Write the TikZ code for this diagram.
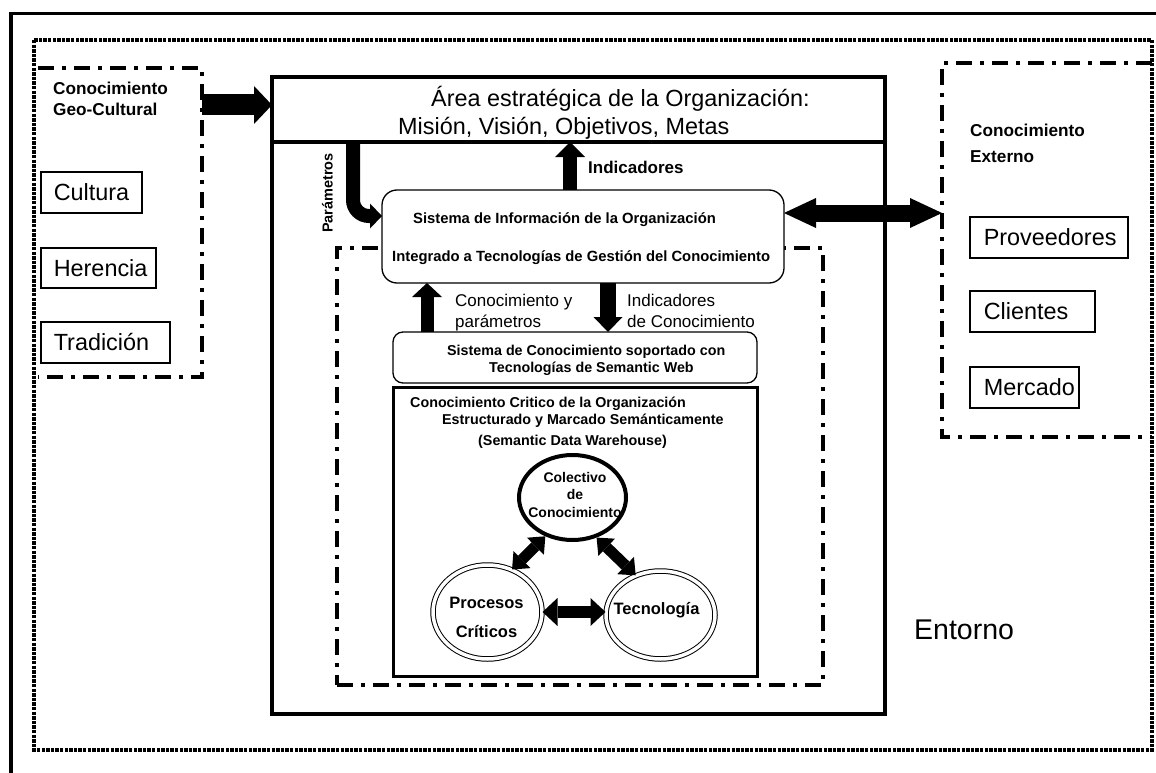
\documentclass[tikz,border=0pt]{standalone}
\usepackage{fontspec}
\setmainfont{Liberation Sans}
\usetikzlibrary{arrows.meta,shapes.geometric}
\newcommand\fs[2]{\fontsize{#1}{#2}\selectfont}

\tikzset{
  frameline/.style={line width=3.3pt},
  entorno/.style={line width=3.4pt, dash pattern=on 3.4pt off 1.2pt},
  dashdot/.style={line width=4pt, dash pattern=on 16pt off 8pt on 4pt off 8pt},
  hidden/.style={rectangle, anchor=north west, inner sep=0pt, outer sep=0pt},
  solidbox/.style={hidden, draw, line width=3.3pt},
  roundbox/.style={hidden, draw, line width=1.3pt, rounded corners=15pt, fill=white},
  lbox/.style={draw, line width=1.6pt, anchor=north west, inner ysep=0pt, inner xsep=13pt,
    minimum height=41pt, text height=16.8pt, text depth=0pt, align=left, font=\fs{23.4}{28}},
  rlbox/.style={lbox, inner xsep=14pt},
  txt/.style={inner sep=0pt, anchor=base west},
  bigtxt/.style={txt, font=\fs{23.4}{28}},
  headtxt/.style={txt, font=\fs{17.2}{21}\bfseries},
  smalltxt/.style={txt, font=\fs{14.3}{17}\bfseries},
  sitxt/.style={txt, font=\fs{14.8}{17}\bfseries},
  midtxt/.style={txt, font=\fs{17}{21}},
  blk/.style n args={3}{line width=#1, -{Triangle[length=#3, width=#2, line width=0pt]}},
  dblk/.style n args={3}{line width=#1,
    {Triangle[length=#3, width=#2, line width=0pt]}-{Triangle[length=#3, width=#2, line width=0pt]}},
  ring/.style={ellipse, draw, inner sep=0pt, line width=1pt, double, double distance=3.5pt},
}

\begin{document}
\begin{tikzpicture}[x=1pt,y=-1pt]
\useasboundingbox (0,0) rectangle (1156,773);

% outer frame and the dotted environment border
\draw[frameline] (11,773) -- (11,13.5) -- (1156,13.5);
\draw[entorno] (34,40) rectangle (1152,750);

% geo-cultural knowledge (open on the left)
\node[hidden, minimum width=164pt, minimum height=309pt] (geo) at (38,68) {};
\draw[dashdot] (geo.north west) -- (geo.north east) -- (geo.south east) -- (geo.south west);
\node[headtxt] (geoA) at (53,95) {Conocimiento};
\node[headtxt] (geoB) at (53,116) {Geo-Cultural};
\node[lbox, text width=75pt] (cul) at (40,171) {Cultura};
\node[lbox, text width=89pt, minimum height=40pt] (her) at (40,247) {Herencia};
\node[lbox, text width=103pt] (tra) at (40,321) {Tradición};

% external knowledge (open on the right)
\node[hidden, minimum width=210pt, minimum height=374pt] (ext) at (942,63) {};
\draw[dashdot] (ext.north east) -- (ext.north west) -- (ext.south west) -- (ext.south east);
\node[headtxt] (extA) at (970,137) {Conocimiento};
\node[headtxt] (extB) at (970,162) {Externo};
\node[rlbox, text width=130pt] (pro) at (969,216) {Proveedores};
\node[rlbox, text width=97pt] (cli) at (969,290) {Clientes};
\node[rlbox, text width=81pt] (mer) at (969,366) {Mercado};

% organisation
\node[solidbox, minimum width=613pt, minimum height=637pt] (org) at (272,77) {};
\node[solidbox, minimum width=613pt, minimum height=65pt] (area) at (272,77) {};
\node[bigtxt] (areaA) at (431,107) {Área estratégica de la Organización:};
\node[bigtxt] (areaB) at (398,135) {Misión, Visión, Objetivos, Metas};

% knowledge management zone
\node[hidden, draw, dashdot, minimum width=486pt, minimum height=437pt] (km) at (337,248) {};

% information system
\node[roundbox, minimum width=402pt, minimum height=93pt] (SI) at (382,190) {};
\node[sitxt] (siA) at (413,223) {Sistema de Información de la Organización};
\node[sitxt] (siB) at (392,261) {Integrado a Tecnologías de Gestión del Conocimiento};

% knowledge system
\node[roundbox, rounded corners=10pt, minimum width=364pt, minimum height=51pt] (SK) at (393,332) {};
\node[smalltxt] (skA) at (447,355) {Sistema de Conocimiento soportado con};
\node[smalltxt] (skB) at (489,372) {Tecnologías de Semantic Web};

% critical knowledge warehouse
\node[solidbox, line width=3pt, minimum width=364pt, minimum height=289pt] (crit) at (393,387) {};
\node[smalltxt] (crA) at (410,407) {Conocimiento Critico de la Organización};
\node[smalltxt] (crB) at (442,424) {Estructurado y Marcado Semánticamente};
\node[smalltxt] (crC) at (478,445) {(Semantic Data Warehouse)};

% the three circles
\node[ellipse, draw, line width=4pt, inner sep=0pt, minimum width=107pt, minimum height=85pt] (col) at (572.5,497.5) {};
\node[font=\fs{14}{17.5}\bfseries, align=center, inner sep=0pt] (colT) at (575,494.5) {Colectivo\\de\\Conocimiento};
\node[ring, minimum width=109pt, minimum height=94pt] (proc) at (487.5,612) {};
\node[font=\fs{16.5}{29}\bfseries, align=center, inner sep=0pt] (procT) at (486.5,617.6) {Procesos\\Críticos};
\node[ring, minimum width=109pt, minimum height=88pt] (tec) at (660.5,615) {};
\node[font=\fs{16.5}{20}\bfseries, inner sep=0pt, anchor=base] (tecT) at (656.5,614) {Tecnología};

\draw[dblk={11pt}{24pt}{14pt}] (col.235) -- (proc.60);
\draw[dblk={11pt}{24pt}{14pt}] (col.301) -- (tec.122);
\draw[dblk={12pt}{28pt}{15pt}] (proc.east) -- (proc.east -| tec.west);

% labels
\node[txt, rotate=90, anchor=base, font=\fs{14.5}{17}\bfseries] (parT) at (332.5,193) {Parámetros};
\node[txt, font=\fs{17}{21}\bfseries] (indT) at (588,173.5) {Indicadores};
\node[midtxt] (kpA) at (455,306) {Conocimiento y};
\node[midtxt] (kpB) at (455,327) {parámetros};
\node[midtxt] (icA) at (627,306) {Indicadores};
\node[midtxt] (icB) at (627,327) {de Conocimiento};
\node[txt, font=\fs{28.5}{34}] (ent) at (914,639) {Entorno};

% arrow positions
\coordinate (geoY) at (0,105);
\coordinate (extY) at (0,213);
\coordinate (parY) at (0,216);
\coordinate (parX) at (353,0);
\coordinate (indX) at (570,0);
\coordinate (kpX) at (427,0);
\coordinate (icX) at (608,0);

% block arrows
\draw[blk={21pt}{38pt}{18pt}] (geo.east |- geoY) -- (area.west |- geoY);
\draw[blk={14pt}{30pt}{15pt}] (SI.north -| indX) -- (area.south -| indX);
\draw[blk={14pt}{25pt}{12pt}, rounded corners=16pt] (area.south -| parX) |- (SI.west |- parY);
\draw[blk={13pt}{30pt}{14pt}] (SK.north -| kpX) -- (SI.south -| kpX);
\draw[blk={16pt}{29pt}{15pt}] (SI.south -| icX) -- (SK.north -| icX);
\draw[dblk={17pt}{30pt}{32pt}] (SI.east |- extY) -- (ext.west |- extY);
\end{tikzpicture}
\end{document}
